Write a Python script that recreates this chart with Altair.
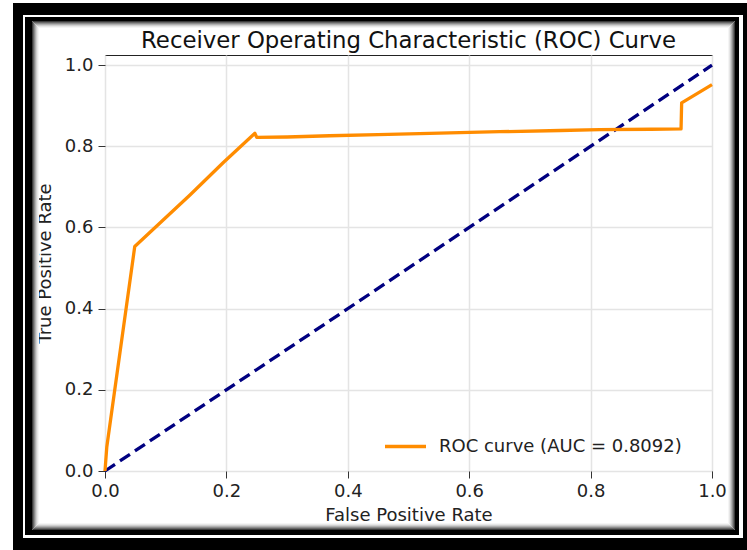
import altair as alt
import pandas as pd

# ROC curve points (false positive rate vs true positive rate)
fpr = [0.0, 0.003, 0.049, 0.14, 0.195, 0.247, 0.25, 0.30, 0.37, 0.45, 0.535,
       0.65, 0.75, 0.815, 0.90, 0.949, 0.95, 1.0]
tpr = [0.0, 0.06, 0.553, 0.68, 0.76, 0.832, 0.822, 0.823, 0.826, 0.829, 0.832,
       0.836, 0.839, 0.841, 0.842, 0.843, 0.907, 0.952]
auc_label = "ROC curve (AUC = 0.8092)"

# chance diagonal
diag_x = [0.0, 1.0]
diag_y = [0.0, 1.0]

ticks = [0.0, 0.2, 0.4, 0.6, 0.8, 1.0]

FONT = "DejaVu Sans"
W, H = 607, 416          # plot area
PAD_L, PAD_T = 105, 55   # plot origin inside the page

roc_df = pd.DataFrame({"fpr": fpr, "tpr": tpr, "idx": range(len(fpr)), "series": auc_label})
diag_df = pd.DataFrame({"fpr": diag_x, "tpr": diag_y})

x_enc = alt.X(
    "fpr:Q",
    scale=alt.Scale(domain=[0, 1], nice=False, zero=False),
    axis=alt.Axis(
        values=ticks, format=".1f", title="False Positive Rate",
        labelFontSize=18, titleFontSize=18, labelFont=FONT, titleFont=FONT,
        titleFontWeight="normal", labelColor="#222", titleColor="#222",
        tickSize=7, tickColor="#333", labelPadding=4, titlePadding=6,
        domain=False, grid=True, gridColor="#e4e4e4", gridWidth=1.5,
        labelFlush=False, labelOverlap=False, labelBound=False,
    ),
)
y_enc = alt.Y(
    "tpr:Q",
    scale=alt.Scale(domain=[0, 1.025], nice=False, zero=False),
    axis=alt.Axis(
        values=ticks, format=".1f", title="True Positive Rate",
        labelFontSize=18, titleFontSize=18, labelFont=FONT, titleFont=FONT,
        titleFontWeight="normal", labelColor="#222", titleColor="#222",
        tickSize=7, tickColor="#333", labelPadding=5, titlePadding=10,
        domain=False, grid=True, gridColor="#e4e4e4", gridWidth=1.5,
        labelFlush=False, labelOverlap=False, labelBound=False,
    ),
)

diag = alt.Chart(diag_df).mark_line(
    color="#000080", strokeWidth=3.3, strokeDash=[12, 6]
).encode(x=x_enc, y=y_enc)

roc = alt.Chart(roc_df).mark_line(strokeWidth=3.3, strokeJoin="round").encode(
    x=x_enc,
    y=y_enc,
    order="idx:Q",
    color=alt.Color(
        "series:N",
        scale=alt.Scale(domain=[auc_label], range=["#FF8C00"]),
        legend=alt.Legend(
            orient="none", legendX=278, legendY=369, title=None,
            symbolType="stroke", symbolStrokeWidth=3.3, symbolSize=1681,
            labelFontSize=18, labelFont=FONT, labelColor="#222",
            labelOffset=11, labelLimit=400, padding=0,
        ),
    ),
)

# picture frame around the figure: double black border with an inner shadow
def px_rect(x1, y1, x2, y2, color, filled=True, width=1.0):
    kw = dict(fill=color) if filled else dict(filled=False, stroke=color, strokeWidth=width)
    return alt.Chart(alt.Data(values=[{}])).mark_rect(**kw).encode(
        x=alt.value(x1 - PAD_L), x2=alt.value(x2 - PAD_L),
        y=alt.value(y1 - PAD_T), y2=alt.value(y2 - PAD_T),
    )

frame = [
    # outer band
    px_rect(13, 3, 23, 550, "black"),
    px_rect(13, 3, 747, 15, "black"),
    px_rect(743, 3, 747, 550, "black"),
    px_rect(13, 538, 747, 550, "black"),
    # inner band
    px_rect(25, 17, 32, 535, "black"),
    px_rect(25, 17, 739, 21, "black"),
    px_rect(735, 17, 739, 535, "black"),
    px_rect(25, 530, 739, 535, "black"),
]
shadow_cols = ["#3a3a3a", "#666666", "#8c8c8c", "#b0b0b0", "#cfcfcf", "#e6e6e6", "#f5f5f5"]
for i, c in enumerate(shadow_cols):
    frame.append(px_rect(32.5 + i, 21.5 + i, 734.5 - i, 529.5 - i, c, filled=False, width=1))

# chart title drawn as a text mark just above the plot area
title = alt.Chart(alt.Data(values=[{}])).mark_text(
    text="Receiver Operating Characteristic (ROC) Curve",
    font=FONT, fontSize=22.8, color="#111", align="center", baseline="alphabetic",
).encode(x=alt.value(W / 2), y=alt.value(-7))

chart = alt.layer(*frame, diag, roc, title).properties(
    width=W,
    height=H,
    autosize=alt.AutoSizeParams(type="none"),
    padding={"left": PAD_L, "top": PAD_T, "right": 747 - PAD_L - W, "bottom": 550 - PAD_T - H},
    background="white",
).configure_view(stroke="#222", strokeWidth=1)

chart.save("out.html", embed_options={"renderer": "svg", "actions": False})
